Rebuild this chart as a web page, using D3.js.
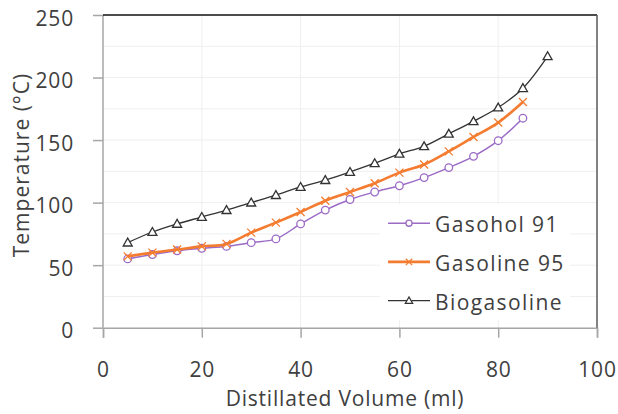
<!DOCTYPE html>
<html><head><meta charset="utf-8">
<script src="https://cdn.jsdelivr.net/npm/d3@7"></script>
<style>body{margin:0;background:#fff}svg{display:block;font-family:"Open Sans","Noto Sans",sans-serif}</style>
</head><body>
<script>
const volumes = [5,10,15,20,25,30,35,40,45,50,55,60,65,70,75,80,85];
const volumesBio = [5,10,15,20,25,30,35,40,45,50,55,60,65,70,75,80,85,90];
const gasohol91 = [55,58.5,61.5,63.5,65,68,71,83,94,102.5,108.5,113.5,120,128,137,149.5,167.5];
const gasoline95 = [57,60,62.5,65,67,76,84,92.5,101.5,108.5,115.5,124,130.5,141,152.5,164,180.5];
const biogasoline = [68,76.5,83,88.5,94,100,106,112.5,118,124.5,131.5,139,145,155,165,176,191.5,217];
const seriesNames = ["Gasohol 91","Gasoline 95","Biogasoline"];
const xTicks = [0,20,40,60,80,100];
const yTicks = [0,50,100,150,200,250];

const W=618,H=414;
const L=103,R=597,T=15,B=327.7;
const svg=d3.select("body").append("svg").attr("width",W).attr("height",H);
const x=d3.scaleLinear().domain([0,100]).range([L,R]);
const y=d3.scaleLinear().domain([0,250]).range([B,T]);
const textCol="#404040";
const FS="21px";

// gridlines
const g=svg.append("g");
g.selectAll(".hg").data(d3.range(25,250,25)).join("line")
 .attr("x1",L).attr("x2",R).attr("y1",d=>y(d)).attr("y2",d=>y(d))
 .attr("stroke","#efefef").attr("stroke-width",1);
g.selectAll(".vg").data(xTicks.slice(1,-1)).join("line")
 .attr("x1",d=>x(d)).attr("x2",d=>x(d)).attr("y1",T).attr("y2",B)
 .attr("stroke","#efefef").attr("stroke-width",1);

// axes
const xAxis=svg.append("g").attr("transform",`translate(0,${B})`)
 .call(d3.axisBottom(x).tickValues(xTicks).tickSize(10).tickPadding(24));
const yAxis=svg.append("g").attr("transform",`translate(${L},0)`)
 .call(d3.axisLeft(y).tickValues(yTicks).tickSize(10).tickPadding(19));
[xAxis,yAxis].forEach(a=>{
  a.select(".domain").attr("stroke","#a6a6a6").attr("stroke-width",1.5);
  a.selectAll(".tick line").attr("stroke","#a6a6a6").attr("stroke-width",1.5);
  a.selectAll("text").attr("fill",textCol).style("font-size",FS)
   .style("letter-spacing","0.8px").style("font-family","'Open Sans','Noto Sans',sans-serif");
});
yAxis.selectAll("text").attr("dy","10px");
yAxis.select(".domain").attr("d",`M0,${y(250)}V${y(0)}`);
// top & right frame
svg.append("line").attr("x1",L).attr("x2",R).attr("y1",T).attr("y2",T).attr("stroke","#111").attr("stroke-width",1.5);
svg.append("line").attr("x1",R).attr("x2",R).attr("y1",T).attr("y2",B).attr("stroke","#595959").attr("stroke-width",1.5);

// axis titles
svg.append("text").attr("x",345).attr("y",406).attr("text-anchor","middle")
 .attr("fill",textCol).style("font-size",FS).style("letter-spacing","0.8px").text("Distillated Volume (ml)");
svg.append("text").attr("transform",`translate(28.5,165) rotate(-90)`).attr("text-anchor","middle")
 .attr("fill",textCol).style("font-size",FS).style("letter-spacing","1px").text("Temperature (°C)");

// legend background
svg.append("rect").attr("x",380).attr("y",204).attr("width",190).attr("height",116).attr("fill","#fff");

const curve=d3.curveCatmullRom.alpha(0.5);
const series=[
 {name:seriesNames[0],xs:volumes,ys:gasohol91,color:"#9b6bc6",w:1.5,m:"circle"},
 {name:seriesNames[1],xs:volumes,ys:gasoline95,color:"#f47c30",w:2.6,m:"x"},
 {name:seriesNames[2],xs:volumesBio,ys:biogasoline,color:"#333333",w:1.3,m:"tri"}
];
function marker(sel,s,cx,cy,k=1){
  if(s.m==="circle"){
    sel.append("circle").attr("cx",cx).attr("cy",cy).attr("r",3.8*k).attr("fill","#fff").attr("stroke",s.color).attr("stroke-width",1.3);
  } else if(s.m==="x"){
    const r=4*k;
    sel.append("path").attr("d",`M${cx-r},${cy-r}L${cx+r},${cy+r}M${cx-r},${cy+r}L${cx+r},${cy-r}`).attr("stroke",s.color).attr("stroke-width",1.3).attr("fill","none");
  } else {
    const r=4.5*k;
    sel.append("path").attr("d",`M${cx},${cy-r}L${cx+r},${cy+r*0.75}L${cx-r},${cy+r*0.75}Z`).attr("fill","#fff").attr("stroke",s.color).attr("stroke-width",1.3);
  }
}
const line=d3.line().x(d=>x(d[0])).y(d=>y(d[1])).curve(curve);
series.forEach(s=>{
  const pts=s.xs.map((v,i)=>[v,s.ys[i]]);
  svg.append("path").datum(pts).attr("d",line).attr("fill","none").attr("stroke",s.color).attr("stroke-width",s.w);
  const mg=svg.append("g");
  pts.forEach(p=>marker(mg,s,x(p[0]),y(p[1])));
});

// legend
series.forEach((s,i)=>{
  const ly=223.2+i*38.7;
  svg.append("line").attr("x1",388).attr("x2",430).attr("y1",ly).attr("y2",ly).attr("stroke",s.color).attr("stroke-width",s.w);
  marker(svg,s,409,ly,0.8);
  svg.append("text").attr("x",435).attr("y",ly+9).attr("fill",textCol).style("font-size",FS).style("letter-spacing","1.4px").text(s.name);
});
</script>
</body></html>
